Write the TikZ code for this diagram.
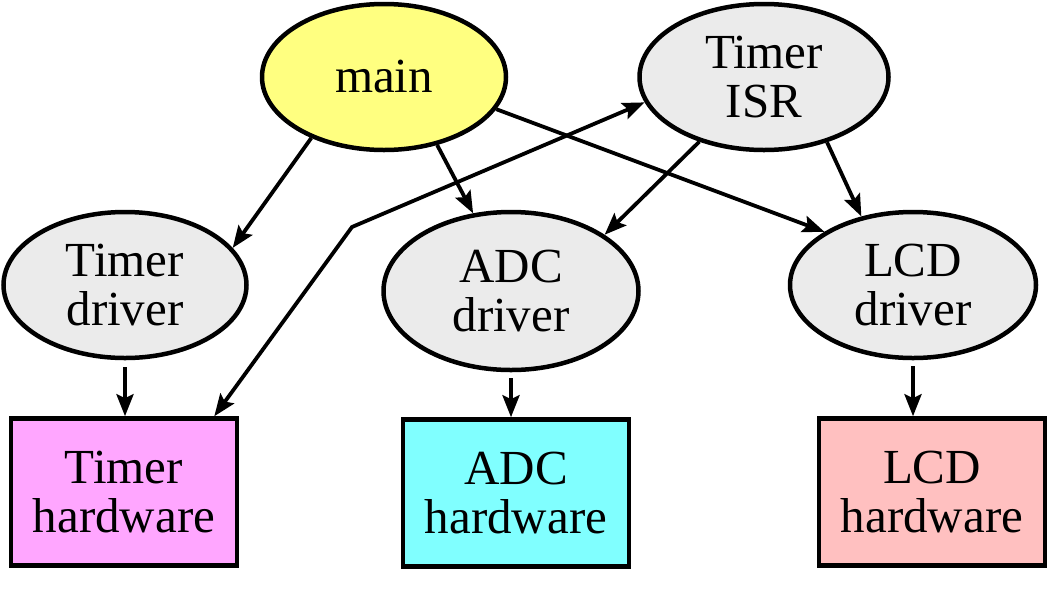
\documentclass[tikz,border=0pt]{standalone}
\usepackage{fontspec}
\setmainfont{Liberation Serif}
\usepackage{tikz}
\usetikzlibrary{shapes.geometric, arrows.meta}

\definecolor{mainyellow}{HTML}{FFFF80}
\definecolor{taskgray}{HTML}{EBEBEB}
\definecolor{timerpink}{HTML}{FFA6FF}
\definecolor{adccyan}{HTML}{80FFFF}
\definecolor{lcdrose}{HTML}{FFC0C0}

\begin{document}
\begin{tikzpicture}[x=1pt, y=-1pt, line width=4.5pt,
    >={Stealth[length=22pt, width=17pt, inset=4pt]},
    task/.style={ellipse, draw, fill=taskgray, inner sep=0pt, align=center,
        font=\fontsize{49}{49}\selectfont},
    hwbox/.style={rectangle, draw, inner sep=0pt, align=center,
        minimum width=226pt, minimum height=147pt, font=\fontsize{49}{49}\selectfont},
    link/.style={->, line width=3.8pt}]
    \useasboundingbox (0, 0) rectangle (1050, 590);

    % draw tasks
    \node[task, fill=mainyellow, minimum width=244pt, minimum height=146pt] (main) at (384, 77) {main};
    \node[task, minimum width=249pt, minimum height=146pt] (isr) at (764, 77) {Timer\\ISR};
    \node[task, minimum width=243pt, minimum height=146pt] (tdrv) at (125, 285) {Timer\\driver};
    \node[task, minimum width=255pt, minimum height=158pt] (adrv) at (511, 291) {ADC\\driver};
    \node[task, minimum width=246pt, minimum height=146pt] (ldrv) at (913, 285) {LCD\\driver};

    % draw hardware boxes
    \node[hwbox, fill=timerpink] (thw) at (124, 492) {Timer\\hardware};
    \node[hwbox, fill=adccyan] (ahw) at (516, 493) {ADC\\hardware};
    \node[hwbox, fill=lcdrose] (lhw) at (932, 492) {LCD\\hardware};

    % draw calls
    \draw[link] (main.220) -- (tdrv.19);
    \draw[link] (main.308) -- (adrv.116);
    \draw[link] (main.344) -- (ldrv.149);
    \draw[link] (isr.225) -- (adrv.31);
    \draw[link] (isr.314) -- (ldrv.127);

    % draw interrupt line
    \coordinate (kink) at (352, 227);
    \draw[link, <->] (thw.40) -- (kink) -- (isr.192);

    % draw driver to hardware
    \draw[link, shorten <=7pt] (tdrv.south) -- (tdrv.south |- thw.north);
    \draw[link, shorten <=6pt] (adrv.south) -- (adrv.south |- ahw.north);
    \draw[link, shorten <=6pt] (ldrv.south) -- (ldrv.south |- lhw.north);

\end{tikzpicture}
\end{document}
